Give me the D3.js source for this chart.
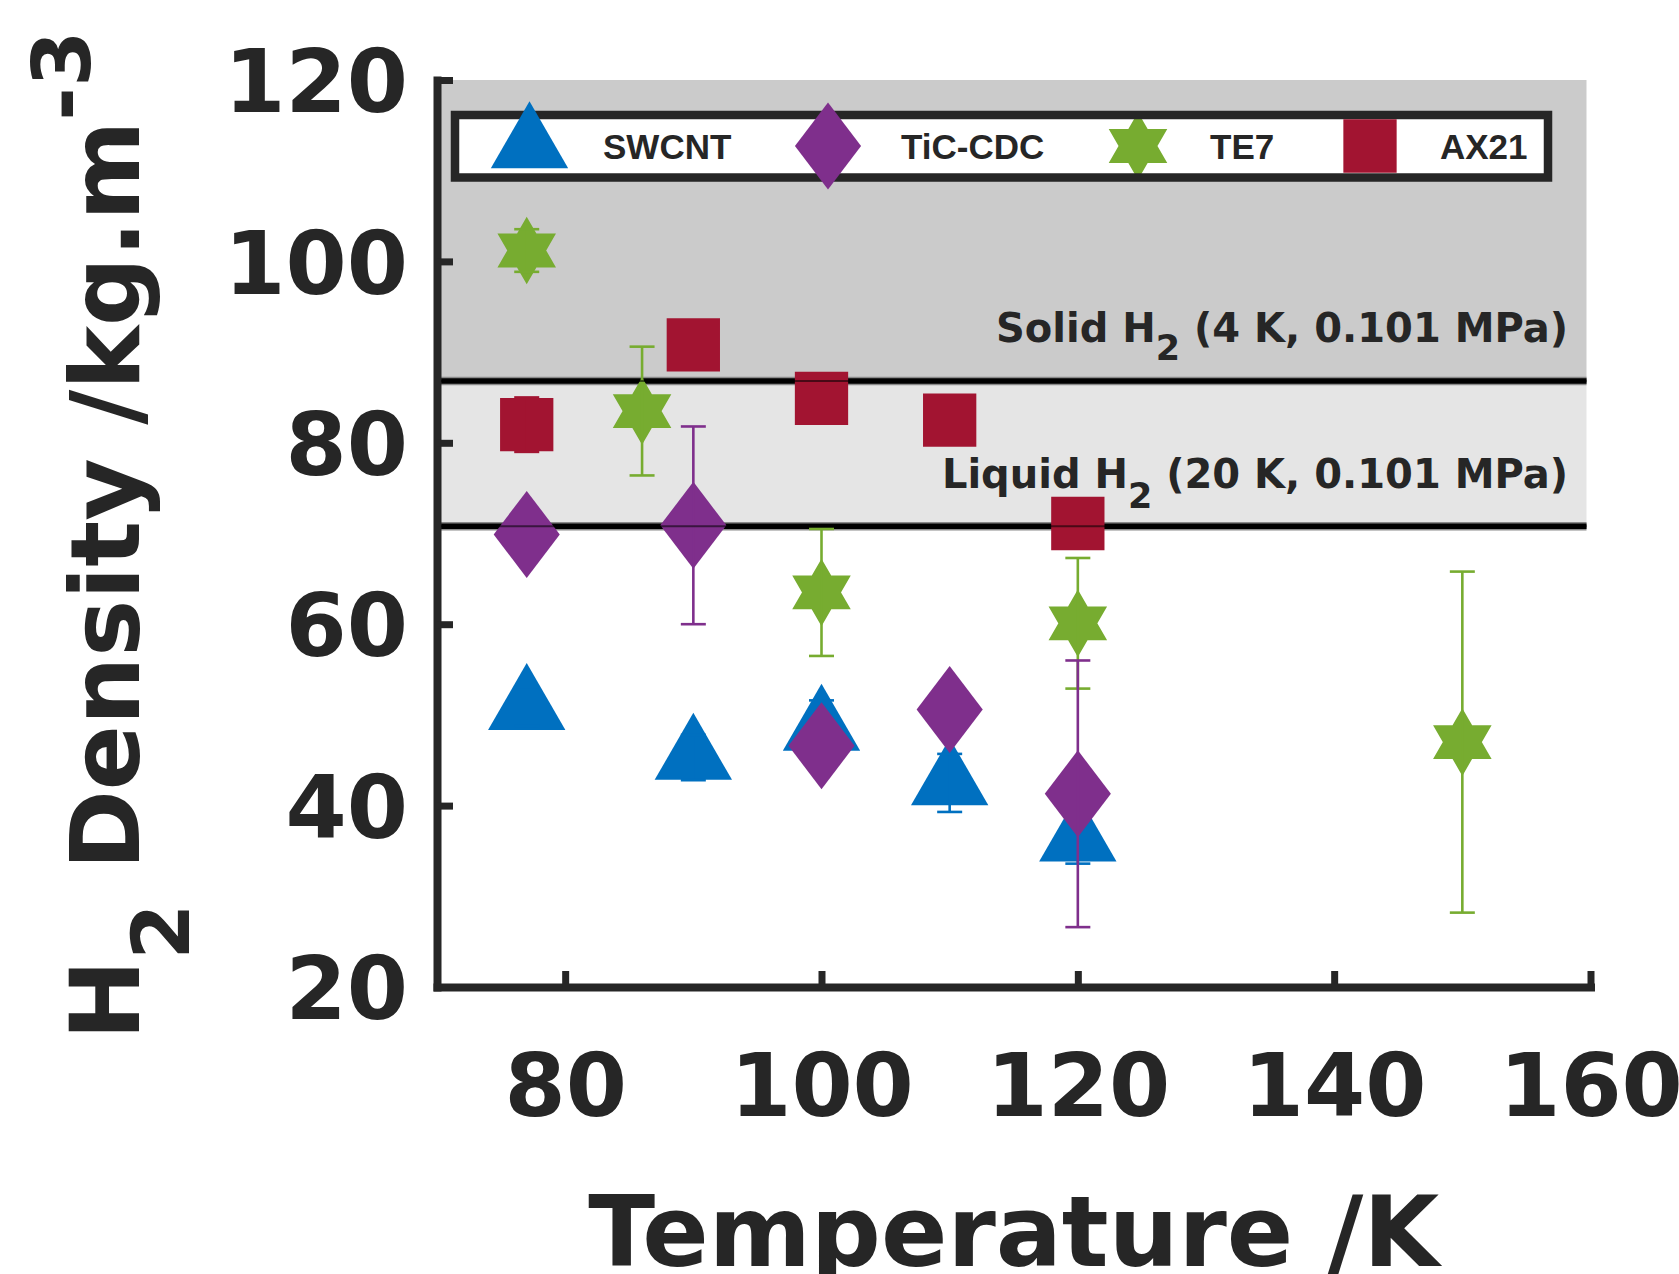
<!DOCTYPE html>
<html>
<head>
<meta charset="utf-8">
<script src="https://cdn.jsdelivr.net/npm/d3@7"></script>
<style>
  html, body { margin: 0; padding: 0; background: #ffffff; }
  svg { display: block; }
  text { font-family: "DejaVu Sans", "Liberation Sans", sans-serif; font-weight: bold; fill: #262626; }
</style>
</head>
<body>
<svg id="chart" width="1679" height="1274"></svg>
<script>
// ---------------- data ----------------
const seriesNames = ["SWCNT", "TiC-CDC", "TE7", "AX21"];

const swcntT   = [77, 90, 100, 110, 120];
const swcntD   = [50.8, 45.3, 48.5, 42.5, 36.3];
const swcntErr = [2.0, 2.5, 3.1, 3.2, 2.7];

const ticT   = [77, 90, 100, 110, 120];
const ticD   = [69.9, 70.9, 46.6, 50.6, 41.3];
const ticErr = [0, 10.9, 0, 0, 14.7];

const te7T   = [77, 86, 100, 120, 150];
const te7D   = [101.2, 83.5, 63.5, 60.1, 47.0];
const te7Err = [2.35, 7.1, 7.0, 7.2, 18.8];

const ax21T   = [77, 90, 100, 110, 120];
const ax21D   = [82.0, 90.8, 84.9, 82.5, 71.1];
const ax21Err = [3.0, 0, 0, 0, 0];

const solidH2  = 86.8;   // kg/m3, solid H2 (4 K, 0.101 MPa)
const liquidH2 = 70.8;   // kg/m3, liquid H2 (20 K, 0.101 MPa)

const xTicks = [80, 100, 120, 140, 160];
const yTicks = [20, 40, 60, 80, 100, 120];
const xDomain = [70, 160];
const yDomain = [20, 120];

// ---------------- styles ----------------
const colors = { "SWCNT": "#0070c0", "TiC-CDC": "#7f2f8c", "TE7": "#77ac30", "AX21": "#a21431" };
const axisColor = "#262626";

// custom marker shapes (size = marker height in px)
const triangleType = { draw(ctx, h) {
  const hw = h / Math.sqrt(3);
  ctx.moveTo(0, -2 * h / 3); ctx.lineTo(hw, h / 3); ctx.lineTo(-hw, h / 3); ctx.closePath();
}};
const diamondType = { draw(ctx, h) {
  const hh = h / 2, hw = h * 0.38;
  ctx.moveTo(0, -hh); ctx.lineTo(hw, 0); ctx.lineTo(0, hh); ctx.lineTo(-hw, 0); ctx.closePath();
}};
const hexagramType = { draw(ctx, h) {
  const R = h / 2, a = R * Math.sqrt(3) / 2;
  ctx.moveTo(0, -R); ctx.lineTo(a, R / 2); ctx.lineTo(-a, R / 2); ctx.closePath();
  ctx.moveTo(0, R); ctx.lineTo(-a, -R / 2); ctx.lineTo(a, -R / 2); ctx.closePath();
}};
const squareType = { draw(ctx, h) {
  ctx.rect(-h / 2, -h / 2, h, h);
}};
const markerType = { "SWCNT": triangleType, "TiC-CDC": diamondType, "TE7": hexagramType, "AX21": squareType };
const markerSize = { "SWCNT": 67, "TiC-CDC": 87, "TE7": 67.6, "AX21": 53.3 };

const series = [
  { name: "SWCNT",   t: swcntT, d: swcntD, e: swcntErr },
  { name: "TE7",     t: te7T,   d: te7D,   e: te7Err },
  { name: "TiC-CDC", t: ticT,   d: ticD,   e: ticErr },
  { name: "AX21",    t: ax21T,  d: ax21D,  e: ax21Err }
];

// ---------------- scales ----------------
const svg = d3.select("#chart");
const x = d3.scaleLinear().domain(xDomain).range([437, 1590.5]);
const y = d3.scaleLinear().domain(yDomain).range([987, 80]);

// ---------------- bands ----------------
const bands = svg.append("g");
bands.append("rect")
  .attr("x", x(xDomain[0])).attr("y", y(yDomain[1]))
  .attr("width", x(xDomain[1]) - x(xDomain[0]) - 4)
  .attr("height", y(solidH2) - y(yDomain[1]))
  .attr("fill", "#cbcbcb");
bands.append("rect")
  .attr("x", x(xDomain[0])).attr("y", y(solidH2))
  .attr("width", x(xDomain[1]) - x(xDomain[0]) - 4)
  .attr("height", y(liquidH2) - y(solidH2))
  .attr("fill", "#e5e5e5");
[solidH2, liquidH2].forEach(v => {
  bands.append("line")
    .attr("x1", x(xDomain[0])).attr("x2", x(xDomain[1]) - 4)
    .attr("y1", y(v)).attr("y2", y(v))
    .attr("stroke", "#8a8a8a").attr("stroke-width", 8.5);
  bands.append("line")
    .attr("x1", x(xDomain[0])).attr("x2", x(xDomain[1]) - 4)
    .attr("y1", y(v)).attr("y2", y(v))
    .attr("stroke", "#000").attr("stroke-width", 5.5);
});

// band annotations
function annot(label, cond, v, base, shift) {
  const t = svg.append("text")
    .attr("x", 1568).attr("y", base)
    .attr("text-anchor", "end")
    .style("font-size", "40px");
  t.append("tspan").text(label + " H");
  t.append("tspan").attr("dy", shift).style("font-size", "35px").text("2");
  t.append("tspan").attr("dy", -shift).text(" " + cond);
}
annot("Solid", "(4 K, 0.101 MPa)", solidH2, y(solidH2) - 39, 18);
annot("Liquid", "(20 K, 0.101 MPa)", liquidH2, y(liquidH2) - 38, 20);

// ---------------- axes ----------------
const xAxis = d3.axisBottom(x).tickValues(xTicks).tickFormat(d3.format("d"))
  .tickSizeInner(-16).tickSizeOuter(0).tickPadding(67);
const yAxis = d3.axisLeft(y).tickValues(yTicks).tickFormat(d3.format("d"))
  .tickSizeInner(-16).tickSizeOuter(0).tickPadding(29);

const gx = svg.append("g").attr("transform", `translate(0,${y(yDomain[0])})`).call(xAxis);
const gy = svg.append("g").attr("transform", `translate(${x(xDomain[0])},0)`).call(yAxis);
[gx, gy].forEach(g => {
  g.select(".domain").attr("stroke", axisColor).attr("stroke-width", 8).attr("stroke-linecap", "square");
  g.selectAll(".tick line").attr("stroke", axisColor).attr("stroke-width", 7);
  g.selectAll(".tick text").attr("fill", axisColor)
    .style("font-family", "'DejaVu Sans', sans-serif").style("font-weight", "bold").style("font-size", "88px");
});
gy.selectAll(".tick text").attr("dy", "0.36em");

// axis titles
svg.append("text")
  .attr("x", (x(xDomain[0]) + x(xDomain[1])) / 2).attr("y", 1266)
  .attr("text-anchor", "middle").style("font-size", "98px")
  .text("Temperature /K");

const yt = svg.append("text")
  .attr("transform", "translate(139,1040) rotate(-90)")
  .attr("x", 0).attr("y", 0).style("font-size", "96px");
yt.append("tspan").text("H");
yt.append("tspan").attr("dy", 50).style("font-size", "81px").text("2");
yt.append("tspan").attr("dy", -50).text(" Density /kg.m");
yt.append("tspan").attr("dy", -49).style("font-size", "81px").text("-3");

// ---------------- data series ----------------
const plot = svg.append("g");
series.forEach(s => {
  const pts = s.t.map((t, i) => ({ t: t, d: s.d[i], e: s.e[i] }));
  const col = colors[s.name];
  const g = plot.append("g");
  g.selectAll("path.mk").data(pts).join("path")
    .attr("class", "mk")
    .attr("transform", p => `translate(${x(p.t)},${y(p.d)})`)
    .attr("d", d3.symbol().type(markerType[s.name]).size(markerSize[s.name]))
    .attr("fill", col);
  const eb = g.selectAll("g.eb").data(pts.filter(p => p.e > 0)).join("g").attr("class", "eb")
    .attr("stroke", col).attr("stroke-width", 2.6);
  eb.append("line")
    .attr("x1", p => x(p.t)).attr("x2", p => x(p.t))
    .attr("y1", p => y(p.d + p.e)).attr("y2", p => y(p.d - p.e));
  eb.append("line")
    .attr("x1", p => x(p.t) - 12.5).attr("x2", p => x(p.t) + 12.5)
    .attr("y1", p => y(p.d + p.e)).attr("y2", p => y(p.d + p.e));
  eb.append("line")
    .attr("x1", p => x(p.t) - 12.5).attr("x2", p => x(p.t) + 12.5)
    .attr("y1", p => y(p.d - p.e)).attr("y2", p => y(p.d - p.e));
});

// faint band lines over markers
[solidH2, liquidH2].forEach(v => {
  svg.append("line")
    .attr("x1", x(xDomain[0]) + 4).attr("x2", x(xDomain[1]) - 4)
    .attr("y1", y(v)).attr("y2", y(v))
    .attr("stroke", "#000").attr("stroke-opacity", 0.55).attr("stroke-width", 2);
});

// ---------------- legend ----------------
const lg = svg.append("g");
const legendItems = [
  { name: "SWCNT",   mx: 529.5, tx: 603 },
  { name: "TiC-CDC", mx: 828,   tx: 901 },
  { name: "TE7",     mx: 1138,  tx: 1210 },
  { name: "AX21",    mx: 1370,  tx: 1440 }
];
const legY = 146;
lg.append("rect").attr("x", 455).attr("y", 115).attr("width", 1093).attr("height", 62.5)
  .attr("fill", "#ffffff");
// star goes under the frame
legendItems.filter(it => it.name === "TE7").forEach(it => {
  lg.append("path").attr("transform", `translate(${it.mx},${legY})`)
    .attr("d", d3.symbol().type(markerType[it.name]).size(markerSize[it.name]))
    .attr("fill", colors[it.name]);
});
lg.append("rect").attr("x", 455).attr("y", 115).attr("width", 1093).attr("height", 62.5)
  .attr("fill", "none").attr("stroke", axisColor).attr("stroke-width", 8.5);
legendItems.filter(it => it.name !== "TE7").forEach(it => {
  lg.append("path").attr("transform", `translate(${it.mx},${legY})`)
    .attr("d", d3.symbol().type(markerType[it.name]).size(markerSize[it.name]))
    .attr("fill", colors[it.name]);
});
legendItems.forEach(it => {
  lg.append("text").attr("x", it.tx).attr("y", 159)
    .style("font-family", "'Liberation Sans', Arial, sans-serif")
    .style("font-size", "35px").text(it.name);
});
</script>
</body>
</html>
